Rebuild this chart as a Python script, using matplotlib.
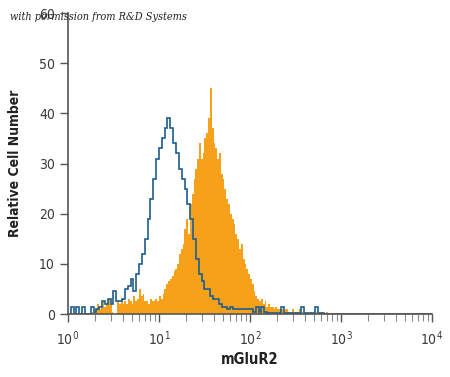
import numpy as np
import matplotlib
matplotlib.use("Agg")
import matplotlib.pyplot as plt
from matplotlib.ticker import LogLocator, NullFormatter

# isotype control (blue outline), 32 channels per decade starting at 10^0
control_counts = [
    0, 1.5, 0, 1.5, 0, 1.5, 0, 0, 1.5, 0.5,
    1, 1.5, 2.5, 2, 3, 2, 4.5, 2.5, 2.5, 3,
    5, 5.5, 7, 4.5, 8, 10, 12, 15, 19, 23,
    27, 31, 33, 35, 37, 39, 37, 34, 32, 29,
    27, 25, 22, 19, 15, 11, 8, 6.5, 5, 5,
    3.5, 3, 3, 2, 1.5, 1.5, 1, 1.5, 1, 1,
    1, 1, 1, 1, 1, 0.5, 1.5, 0.5, 1.5, 0.5,
    0.3, 0.3, 0.3, 0.3, 0.3, 1.5, 0.3, 0.3, 0.3, 0.3,
    0.3, 0.3, 1.5, 0.3, 0.3, 0.3, 0.3, 1.5, 0.3, 0.3,
]
control_start, control_per_decade = 0.0, 32

# mGluR2 stained cells (orange fill), 50 channels per decade starting at 10^0.2
stained_counts = [
    0, 0, 0, 0.5, 0.5, 1, 2, 1, 1.5, 2.5,
    1.5, 2, 3, 2, 0.5, 0, 0, 2.5, 2, 3,
    2, 2.5, 2, 3, 2.5, 2, 3.5, 2.5, 3, 5,
    3.5, 4, 2.5, 2.5, 2, 3, 2.5, 2.5, 3, 2.5,
    3.5, 3, 4, 5, 6, 6.5, 7, 7.5, 8.5, 9,
    10, 12, 13, 14, 17, 19, 16, 22, 24, 27,
    29, 31, 34, 31, 32, 35, 36, 39, 45, 37,
    34, 33, 31, 32, 28, 27, 25, 23, 22, 20,
    19, 18, 16, 15, 13, 14, 11, 10, 9, 8,
    7, 6, 4.5, 3.5, 3, 2.5, 3, 2, 2.5, 1.5,
    2, 1.5, 1.5, 1, 1.5, 1, 1, 1, 0.5, 1,
    1, 0.5, 0.5, 1, 0.5, 0.5, 0.5, 1, 0.5, 0.3,
    0.5, 0.3, 0.3, 0.5, 0.3, 0.3, 0.5, 0.3, 0.3, 0.5,
    0.3, 0.3, 0.5,
]
stained_start, stained_per_decade = 0.2, 50

blue = "#1d5e8e"
orange = "#f7a11a"
axis_col = "#555555"
label_font = "DejaVu Sans"


def channel_edges(start, per_decade, n):
    return 10 ** (start + np.arange(n + 1) / per_decade)


def main():
    plt.rcParams["font.stretch"] = "condensed"
    plt.rcParams["mathtext.fontset"] = "custom"
    plt.rcParams["mathtext.rm"] = "DejaVu Sans:stretch=condensed"
    plt.rcParams["mathtext.it"] = "DejaVu Sans:italic:stretch=condensed"

    fig = plt.figure(figsize=(4.5, 3.77), dpi=100)
    ax = fig.add_axes([0.151, 0.167, 0.809, 0.7985])

    s_edges = channel_edges(stained_start, stained_per_decade, len(stained_counts))
    ax.stairs(stained_counts, s_edges, fill=True, color=orange, linewidth=0)

    # pad the control trace with empty channels up to 10^4
    n_total = 4 * control_per_decade
    c_vals = np.zeros(n_total)
    c_vals[:len(control_counts)] = control_counts
    c_edges = channel_edges(control_start, control_per_decade, n_total)
    ax.stairs(c_vals, c_edges, color=blue, linewidth=1.2, baseline=None)

    ax.set_xscale("log")
    ax.set_xlim(1, 1e4)
    ax.set_ylim(0, 60)
    ax.set_yticks([0, 10, 20, 30, 40, 50, 60])
    ax.xaxis.set_major_locator(LogLocator(base=10, numticks=10))
    ax.xaxis.set_minor_locator(LogLocator(base=10, subs=np.arange(2, 10), numticks=10))
    ax.xaxis.set_minor_formatter(NullFormatter())

    for side in ("top", "right"):
        ax.spines[side].set_visible(False)
    for side in ("left", "bottom"):
        ax.spines[side].set_color(axis_col)
        ax.spines[side].set_linewidth(1.2)

    ax.tick_params(axis="both", which="major", direction="out", length=6,
                   width=1, color=axis_col, labelcolor="#3a3a3a", labelsize=10)
    ax.tick_params(axis="x", which="minor", direction="out", length=5,
                   width=0.8, color="#888888")
    ax.tick_params(axis="x", which="major", pad=5)
    for lab in ax.get_xticklabels() + ax.get_yticklabels():
        lab.set_family(label_font)
        lab.set_stretch("condensed")

    ax.set_xlabel("mGluR2", fontsize=10.5, fontweight="bold", family=label_font,
                  fontstretch="condensed", color="#222222", labelpad=3)
    ax.set_ylabel("Relative Cell Number", fontsize=10, fontweight="bold",
                  family=label_font, fontstretch="condensed", color="#222222",
                  labelpad=12)

    fig.text(0.022, 0.948, "with permission from R&D Systems", fontsize=7.8,
             style="italic", family="DejaVu Serif", fontstretch="condensed",
             color="#222222")

    fig.savefig("out.png", dpi=100)
    plt.close(fig)


if __name__ == "__main__":
    main()
